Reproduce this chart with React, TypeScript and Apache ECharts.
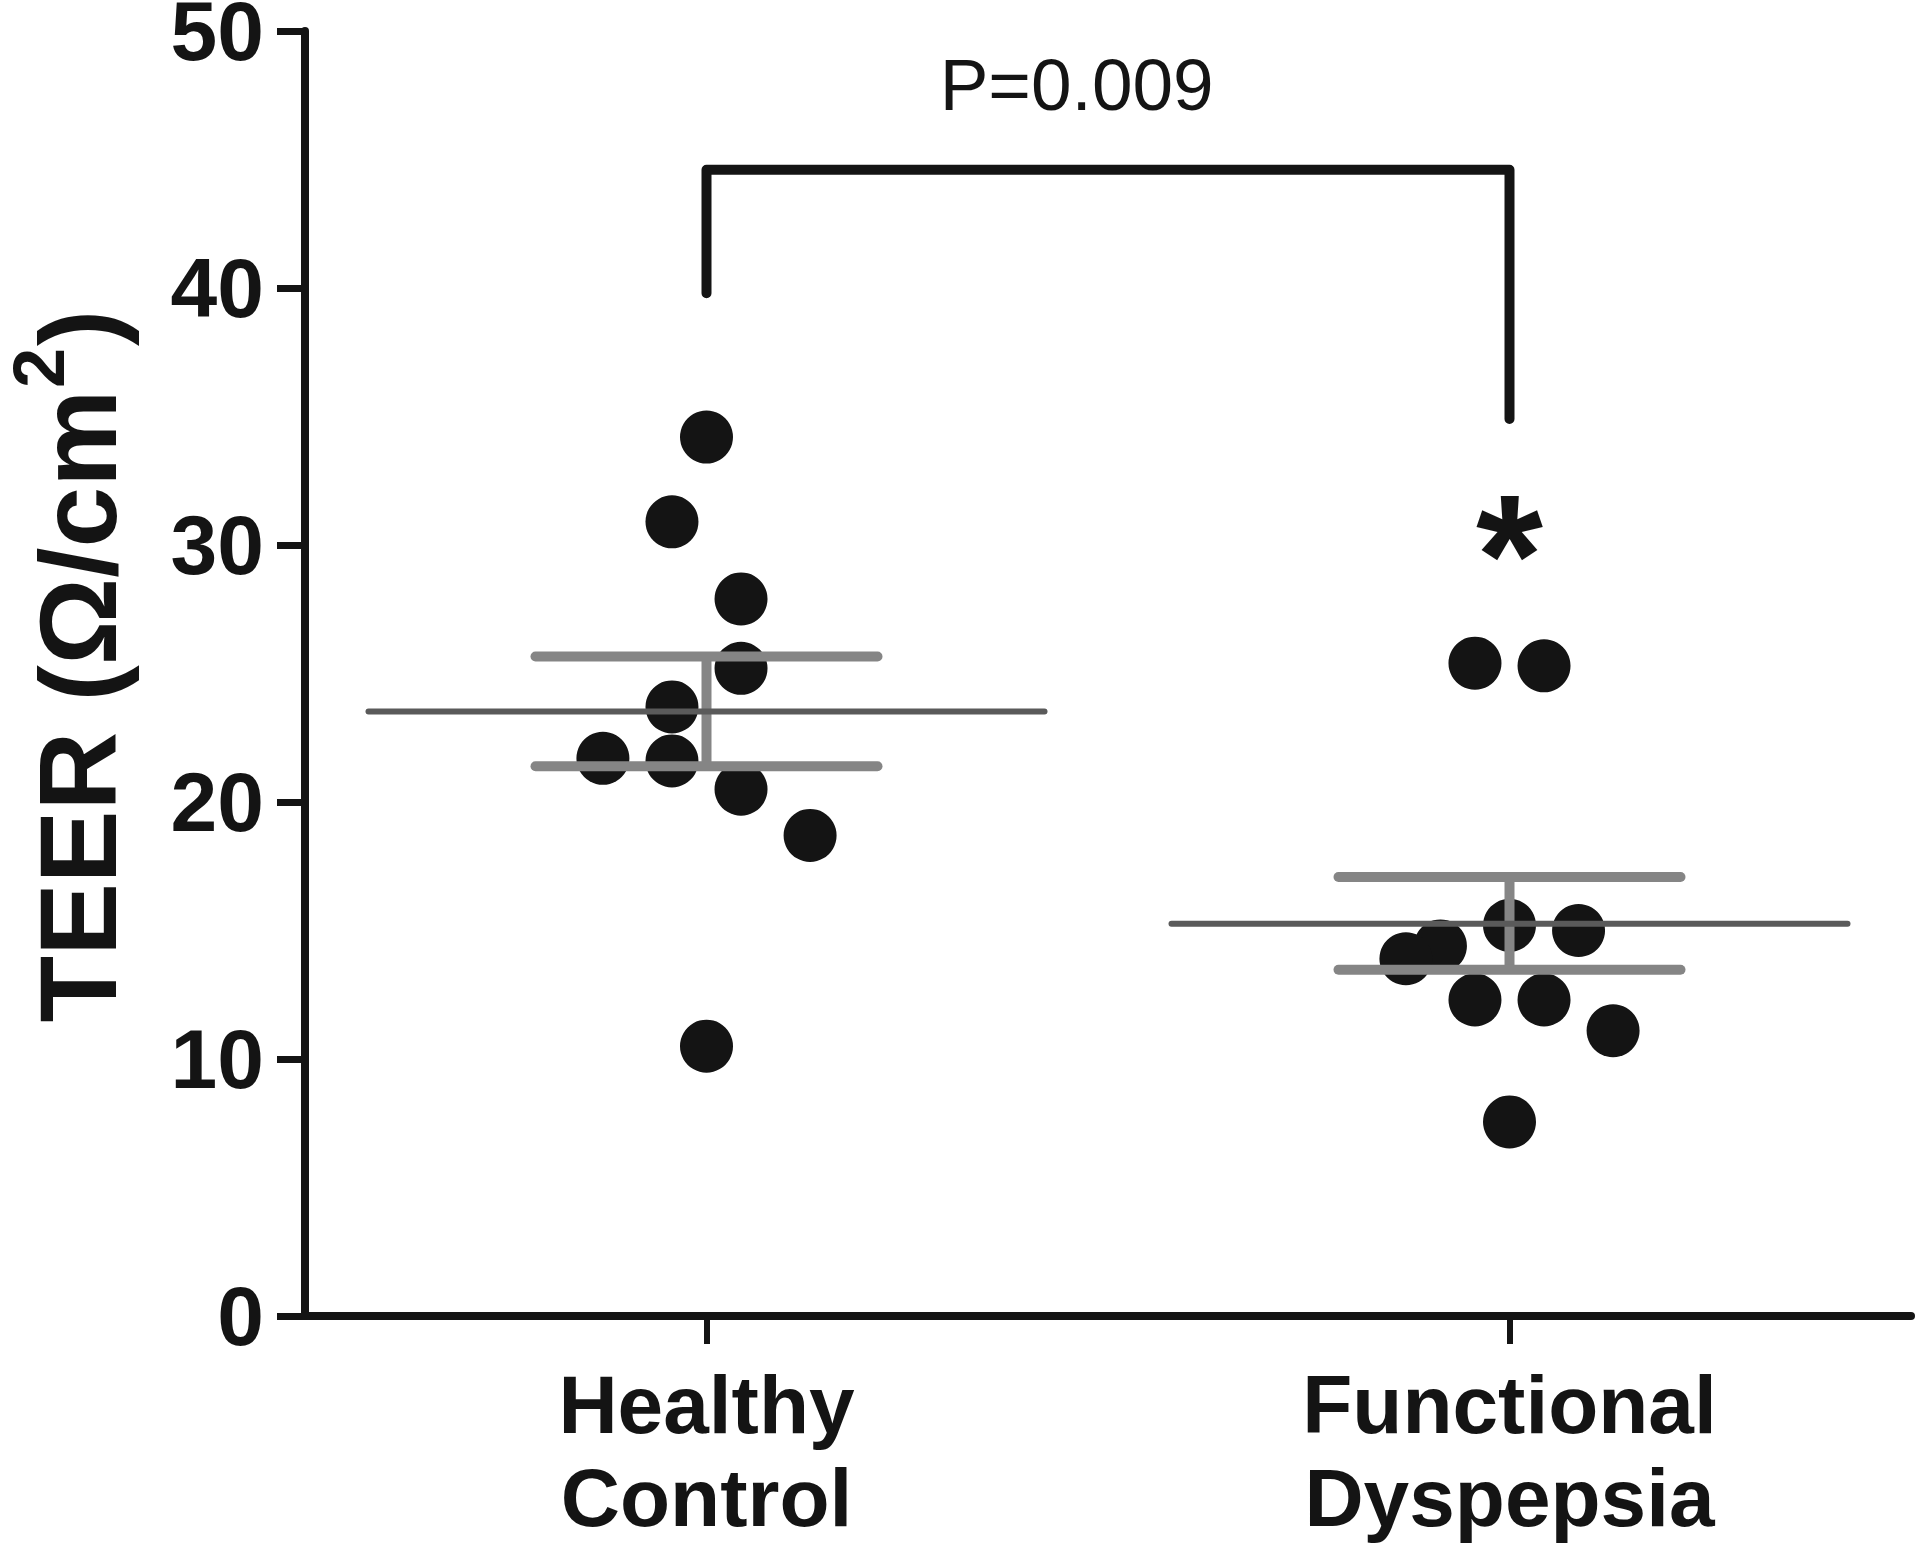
import React, { useEffect, useRef } from "react";
import * as echarts from "echarts";

// ---- data ----
const categories = ["Healthy\nControl", "Functional\nDyspepsia"];
const yTickValues = [0, 10, 20, 30, 40, 50];

const healthyValues = [34.2, 30.9, 27.9, 25.2, 23.7, 21.7, 21.6, 20.5, 18.7, 10.5];
const healthyColumn = [0, -1, 1, 1, -1, -3, -1, 1, 3, 0];

const dyspepsiaValues = [25.4, 25.3, 15.2, 15.0, 14.4, 13.9, 12.3, 12.3, 11.1, 7.55];
const dyspepsiaColumn = [-1, 1, 0, 2, -2, -3, -1, 1, 3, 0];

const groupMean = [23.52, 15.26];
const groupSemLow = [21.39, 13.47];
const groupSemHigh = [25.66, 17.08];

const bracketLeftEnd = 39.8;
const bracketTop = 44.6;
const bracketRightEnd = 34.9;
const pValueText = "P=0.009";
const pValueY = 47.9;
const significanceText = "*";
const significanceY = 29.6;

const yAxisTitleMain = "TEER (Ω/cm";
const yAxisTitleSup = "2";
const yAxisTitleEnd = ")";

// ---- layout / style constants ----
const FONT = '"Liberation Sans", Arial, Helvetica, sans-serif';
const INK = "#141414";
const COLUMN_STEP = 0.043; // x units per scatter column step
const MEAN_HALF = 338; // px
const SEM_HALF = 171; // px
const TITLE_SIZE = 109;
const TITLE_SUP_SIZE = 72;

function measure(text: string, size: number): number {
  const ctx = document.createElement("canvas").getContext("2d");
  if (!ctx) return text.length * size * 0.6;
  ctx.font = `bold ${size}px ${FONT}`;
  return ctx.measureText(text).width;
}

export default function App() {
  const ref = useRef<HTMLDivElement>(null);

  useEffect(() => {
    document.body.style.margin = "0";
    if (!ref.current) return;
    const chart = echarts.init(ref.current, undefined, { renderer: "svg" });

    const healthyData = healthyValues.map((v, i) => [0.5 + healthyColumn[i] * COLUMN_STEP, v]);
    const dyspepsiaData = dyspepsiaValues.map((v, i) => [1.5 + dyspepsiaColumn[i] * COLUMN_STEP, v]);
    const summaryData = groupMean.map((m, i) => [i + 0.5, m, groupSemLow[i], groupSemHigh[i]]);

    // y-axis title (rotated, with superscript)
    const w1 = measure(yAxisTitleMain, TITLE_SIZE);
    const w2 = measure(yAxisTitleSup, TITLE_SUP_SIZE);
    const w3 = measure(yAxisTitleEnd, TITLE_SIZE);
    const W = w1 + w2 + w3;
    const central = 0.3465; // central-baseline offset (em) for Liberation Sans
    const titleStyle = (text: string, size: number, lineHeight: number) => ({
      text,
      fontFamily: FONT,
      fontSize: size,
      fontWeight: "bold",
      lineHeight,
      fill: INK,
      align: "left",
      verticalAlign: "middle",
    });

    const option: any = {
      animation: false,
      backgroundColor: "#ffffff",
      grid: { left: 305, right: 9, top: 31, bottom: 234, containLabel: false, outerBoundsMode: "none" },
      graphic: [
        {
          type: "group",
          x: 116,
          y: 668,
          rotation: Math.PI / 2,
          children: [
            { type: "text", x: -W / 2, y: -central * TITLE_SIZE, style: titleStyle(yAxisTitleMain, TITLE_SIZE, 110) },
            {
              type: "text",
              x: -W / 2 + w1 + 2,
              y: -52 - central * TITLE_SUP_SIZE,
              style: titleStyle(yAxisTitleSup, TITLE_SUP_SIZE, 52),
            },
            { type: "text", x: -W / 2 + w1 + w2 + 4, y: -central * TITLE_SIZE, style: titleStyle(yAxisTitleEnd, TITLE_SIZE, 110) },
          ],
        },
      ],
      xAxis: [
        {
          type: "category",
          data: categories,
          boundaryGap: true,
          axisLine: { show: true, lineStyle: { color: INK, width: 8 } },
          axisTick: { show: true, alignWithLabel: true, length: 28, lineStyle: { color: INK, width: 6 } },
          axisLabel: {
            color: INK,
            fontFamily: FONT,
            fontSize: 82,
            fontWeight: "bold",
            lineHeight: 93,
            margin: 42,
          },
          splitLine: { show: false },
        },
        {
          type: "value",
          min: 0,
          max: 2,
          show: false,
          splitLine: { show: false },
        },
      ],
      yAxis: {
        type: "value",
        min: yTickValues[0],
        max: yTickValues[yTickValues.length - 1],
        interval: yTickValues[1] - yTickValues[0],
        axisLine: { show: true, lineStyle: { color: INK, width: 8 } },
        axisTick: { show: true, length: 28, lineStyle: { color: INK, width: 7 } },
        axisLabel: {
          color: INK,
          fontFamily: FONT,
          fontSize: 84,
          fontWeight: "bold",
          lineHeight: 56,
          padding: [7, 0, 0, 0],
          margin: 41,
        },
        splitLine: { show: false },
      },
      series: [
        {
          name: "Healthy Control",
          type: "scatter",
          xAxisIndex: 1,
          data: healthyData,
          symbol: "circle",
          symbolSize: 53,
          itemStyle: { color: INK, opacity: 1 },
          z: 2,
        },
        {
          name: "Functional Dyspepsia",
          type: "scatter",
          xAxisIndex: 1,
          data: dyspepsiaData,
          symbol: "circle",
          symbolSize: 53,
          itemStyle: { color: INK, opacity: 1 },
          z: 2,
        },
        {
          name: "Mean ± SEM",
          type: "custom",
          xAxisIndex: 1,
          clip: false,
          z: 3,
          data: summaryData,
          renderItem: (params: any, api: any) => {
            const x = api.value(0);
            const c = api.coord([x, api.value(1)]);
            const lo = api.coord([x, api.value(2)]);
            const hi = api.coord([x, api.value(3)]);
            const semStyle = { stroke: "#858585", lineWidth: 10, lineCap: "round" };
            return {
              type: "group",
              children: [
                { type: "line", shape: { x1: c[0], y1: lo[1], x2: c[0], y2: hi[1] }, style: { stroke: "#858585", lineWidth: 10 } },
                { type: "line", shape: { x1: c[0] - SEM_HALF, y1: hi[1], x2: c[0] + SEM_HALF, y2: hi[1] }, style: semStyle },
                { type: "line", shape: { x1: c[0] - SEM_HALF, y1: lo[1], x2: c[0] + SEM_HALF, y2: lo[1] }, style: semStyle },
                {
                  type: "line",
                  shape: { x1: c[0] - MEAN_HALF, y1: c[1], x2: c[0] + MEAN_HALF, y2: c[1] },
                  style: { stroke: "#5a5a5a", lineWidth: 6, lineCap: "round" },
                },
              ],
            };
          },
        },
        {
          name: "Significance",
          type: "custom",
          xAxisIndex: 1,
          clip: false,
          z: 4,
          data: [[0.5, 1.5, bracketLeftEnd, bracketTop, bracketRightEnd, pValueY, significanceY]],
          renderItem: (params: any, api: any) => {
            const x1 = api.value(0);
            const x2 = api.value(1);
            const a = api.coord([x1, api.value(2)]);
            const b = api.coord([x1, api.value(3)]);
            const c = api.coord([x2, api.value(3)]);
            const d = api.coord([x2, api.value(4)]);
            const p = api.coord([(x1 + x2) / 2 - 0.039, api.value(5)]);
            const s = api.coord([x2, api.value(6)]);
            return {
              type: "group",
              children: [
                {
                  type: "polyline",
                  shape: { points: [a, b, c, d] },
                  style: { stroke: INK, lineWidth: 10, lineCap: "round", lineJoin: "round", fill: "none" },
                },
                {
                  type: "text",
                  x: p[0],
                  y: p[1],
                  style: {
                    text: pValueText,
                    fontFamily: FONT,
                    fontSize: 73,
                    fill: INK,
                    align: "center",
                    verticalAlign: "middle",
                  },
                },
                {
                  type: "text",
                  x: s[0],
                  y: s[1],
                  style: {
                    text: significanceText,
                    fontFamily: FONT,
                    fontSize: 172,
                    fontWeight: "bold",
                    fill: INK,
                    align: "center",
                    verticalAlign: "middle",
                  },
                },
              ],
            };
          },
        },
      ],
    };

    chart.setOption(option);
    return () => chart.dispose();
  }, []);

  return <div ref={ref} style={{ width: 1920, height: 1550 }} />;
}
